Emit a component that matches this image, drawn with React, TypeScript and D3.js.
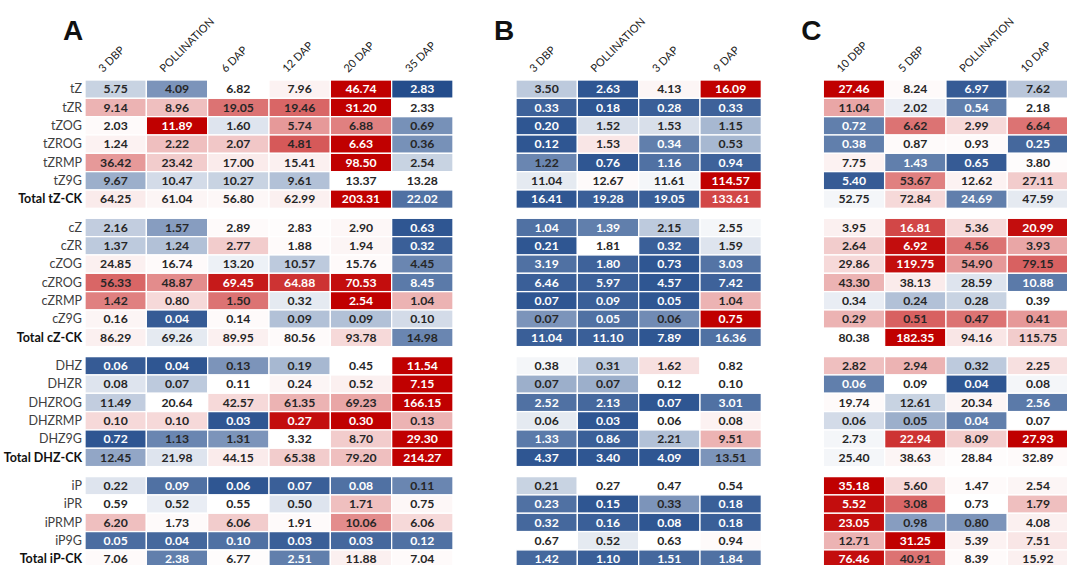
import React from "react";
import * as d3 from "d3";

// ---------- data ----------
const rowGroups: string[][] = [
  ["tZ", "tZR", "tZOG", "tZROG", "tZRMP", "tZ9G", "Total tZ-CK"],
  ["cZ", "cZR", "cZOG", "cZROG", "cZRMP", "cZ9G", "Total cZ-CK"],
  ["DHZ", "DHZR", "DHZROG", "DHZRMP", "DHZ9G", "Total DHZ-CK"],
  ["iP", "iPR", "iPRMP", "iP9G", "Total iP-CK"],
];

const columnsA = ["3 DBP", "POLLINATION", "6 DAP", "12 DAP", "20 DAP", "35 DAP"];
const columnsB = ["3 DBP", "POLLINATION", "3 DAP", "9 DAP"];
const columnsC = ["10 DBP", "5 DBP", "POLLINATION", "10 DAP"];

const valuesA: number[][] = [
  [5.75, 4.09, 6.82, 7.96, 46.74, 2.83],
  [9.14, 8.96, 19.05, 19.46, 31.2, 2.33],
  [2.03, 11.89, 1.6, 5.74, 6.88, 0.69],
  [1.24, 2.22, 2.07, 4.81, 6.63, 0.36],
  [36.42, 23.42, 17.0, 15.41, 98.5, 2.54],
  [9.67, 10.47, 10.27, 9.61, 13.37, 13.28],
  [64.25, 61.04, 56.8, 62.99, 203.31, 22.02],
  [2.16, 1.57, 2.89, 2.83, 2.9, 0.63],
  [1.37, 1.24, 2.77, 1.88, 1.94, 0.32],
  [24.85, 16.74, 13.2, 10.57, 15.76, 4.45],
  [56.33, 48.87, 69.45, 64.88, 70.53, 8.45],
  [1.42, 0.8, 1.5, 0.32, 2.54, 1.04],
  [0.16, 0.04, 0.14, 0.09, 0.09, 0.1],
  [86.29, 69.26, 89.95, 80.56, 93.78, 14.98],
  [0.06, 0.04, 0.13, 0.19, 0.45, 11.54],
  [0.08, 0.07, 0.11, 0.24, 0.52, 7.15],
  [11.49, 20.64, 42.57, 61.35, 69.23, 166.15],
  [0.1, 0.1, 0.03, 0.27, 0.3, 0.13],
  [0.72, 1.13, 1.31, 3.32, 8.7, 29.3],
  [12.45, 21.98, 44.15, 65.38, 79.2, 214.27],
  [0.22, 0.09, 0.06, 0.07, 0.08, 0.11],
  [0.59, 0.52, 0.55, 0.5, 1.71, 0.75],
  [6.2, 1.73, 6.06, 1.91, 10.06, 6.06],
  [0.05, 0.04, 0.1, 0.03, 0.03, 0.12],
  [7.06, 2.38, 6.77, 2.51, 11.88, 7.04],
];

// colour level: -1 = deepest blue, 0 = white, 1 = deepest red
const levelsA: number[][] = [
  [-0.25, -0.6, 0, 0.05, 1, -1],
  [0.3, 0.25, 0.55, 0.6, 1, 0],
  [0.02, 1, -0.15, 0.4, 0.5, -0.62],
  [0.05, 0.25, 0.22, 0.65, 1, -0.62],
  [0.4, 0.2, 0.08, 0.06, 1, -0.25],
  [-0.45, -0.2, -0.25, -0.35, 0, 0],
  [0.08, 0.04, 0.03, 0.06, 1, -0.8],
  [-0.28, -0.55, 0.02, 0.01, 0.03, -0.95],
  [-0.3, -0.35, 0.2, 0.02, 0.04, -0.9],
  [0.06, 0.02, -0.08, -0.3, 0.02, -0.68],
  [0.6, 0.45, 0.9, 0.8, 0.95, -0.75],
  [0.5, 0.15, 0.55, -0.12, 1, 0.3],
  [0.04, -0.92, 0.02, -0.35, -0.35, -0.2],
  [0.06, -0.12, 0.06, 0.02, 0.15, -0.68],
  [-0.92, -0.95, -0.6, -0.4, 0, 1],
  [-0.15, -0.3, 0, 0.04, 0.06, 1],
  [-0.28, 0, 0.15, 0.3, 0.35, 1],
  [0.15, 0.15, -0.95, 0.95, 1, 0.3],
  [-0.95, -0.68, -0.6, 0, 0.2, 1],
  [-0.5, -0.15, 0.08, 0.2, 0.25, 1],
  [-0.15, -0.8, -0.95, -0.9, -0.8, -0.68],
  [0, -0.1, 0, -0.15, 0.25, 0.03],
  [0.25, 0.02, 0.2, 0.02, 0.45, 0.15],
  [-0.82, -0.85, -0.8, -0.9, -0.85, -0.8],
  [0.02, -0.72, 0.01, -0.72, 0.06, 0.02],
];

const valuesB: number[][] = [
  [3.5, 2.63, 4.13, 16.09],
  [0.33, 0.18, 0.28, 0.33],
  [0.2, 1.52, 1.53, 1.15],
  [0.12, 1.53, 0.34, 0.53],
  [1.22, 0.76, 1.16, 0.94],
  [11.04, 12.67, 11.61, 114.57],
  [16.41, 19.28, 19.05, 133.61],
  [1.04, 1.39, 2.15, 2.55],
  [0.21, 1.81, 0.32, 1.59],
  [3.19, 1.8, 0.73, 3.03],
  [6.46, 5.97, 4.57, 7.42],
  [0.07, 0.09, 0.05, 1.04],
  [0.07, 0.05, 0.06, 0.75],
  [11.04, 11.1, 7.89, 16.36],
  [0.38, 0.31, 1.62, 0.82],
  [0.07, 0.07, 0.12, 0.1],
  [2.52, 2.13, 0.07, 3.01],
  [0.06, 0.03, 0.06, 0.08],
  [1.33, 0.86, 2.21, 9.51],
  [4.37, 3.4, 4.09, 13.51],
  [0.21, 0.27, 0.47, 0.54],
  [0.23, 0.15, 0.33, 0.18],
  [0.32, 0.16, 0.08, 0.18],
  [0.67, 0.52, 0.63, 0.94],
  [1.42, 1.1, 1.51, 1.84],
];

const levelsB: number[][] = [
  [-0.3, -0.95, 0.04, 1],
  [-0.88, -0.95, -0.9, -0.88],
  [-0.95, -0.18, -0.18, -0.4],
  [-0.95, 0.1, -0.72, -0.4],
  [-0.68, -0.95, -0.8, -0.88],
  [-0.12, 0.02, -0.05, 1],
  [-0.95, -0.9, -0.9, 0.72],
  [-0.8, -0.72, -0.3, -0.05],
  [-0.95, 0, -0.9, -0.15],
  [-0.8, -0.88, -0.95, -0.78],
  [-0.9, -0.9, -0.95, -0.88],
  [-0.95, -0.9, -0.95, 0.3],
  [-0.6, -0.8, -0.65, 1],
  [-0.9, -0.9, -0.95, -0.8],
  [-0.05, -0.3, 0.12, 0],
  [-0.45, -0.45, 0, 0],
  [-0.8, -0.85, -0.95, -0.8],
  [-0.12, -0.95, 0, 0.05],
  [-0.75, -0.9, -0.35, 0.3],
  [-0.95, -0.95, -0.95, -0.6],
  [-0.25, 0, 0, 0],
  [-0.8, -0.95, -0.6, -0.9],
  [-0.85, -0.9, -0.95, -0.9],
  [0, -0.12, 0, 0.02],
  [-0.85, -0.9, -0.85, -0.8],
];

const valuesC: number[][] = [
  [27.46, 8.24, 6.97, 7.62],
  [11.04, 2.02, 0.54, 2.18],
  [0.72, 6.62, 2.99, 6.64],
  [0.38, 0.87, 0.93, 0.25],
  [7.75, 1.43, 0.65, 3.8],
  [5.4, 53.67, 12.62, 27.11],
  [52.75, 72.84, 24.69, 47.59],
  [3.95, 16.81, 5.36, 20.99],
  [2.64, 6.92, 4.56, 3.93],
  [29.86, 119.75, 54.9, 79.15],
  [43.3, 38.13, 28.59, 10.88],
  [0.34, 0.24, 0.28, 0.39],
  [0.29, 0.51, 0.47, 0.41],
  [80.38, 182.35, 94.16, 115.75],
  [2.82, 2.94, 0.32, 2.25],
  [0.06, 0.09, 0.04, 0.08],
  [19.74, 12.61, 20.34, 2.56],
  [0.06, 0.05, 0.04, 0.07],
  [2.73, 22.94, 8.09, 27.93],
  [25.4, 38.63, 28.84, 32.89],
  [35.18, 5.6, 1.47, 2.54],
  [5.52, 3.08, 0.73, 1.79],
  [23.05, 0.98, 0.8, 4.08],
  [12.71, 31.25, 5.39, 7.51],
  [76.46, 40.91, 8.39, 15.92],
];

const levelsC: number[][] = [
  [1, 0.02, -0.92, -0.32],
  [0.35, -0.1, -0.72, 0],
  [-0.72, 0.55, 0.15, 0.55],
  [-0.72, 0.02, 0.02, -0.85],
  [0.05, -0.72, -0.92, 0.01],
  [-0.92, 0.5, 0.05, 0.2],
  [-0.05, 0.15, -0.72, -0.12],
  [0.06, 0.72, 0.15, 0.95],
  [0.2, 0.95, 0.55, 0.35],
  [0.15, 0.95, 0.4, 0.62],
  [0.3, 0.08, -0.15, -0.75],
  [-0.1, -0.35, -0.25, 0],
  [0.3, 0.62, 0.55, 0.4],
  [0, 1, 0.1, 0.2],
  [0.25, 0.3, -0.3, 0.12],
  [-0.72, 0, -0.95, -0.05],
  [0.02, -0.25, 0.04, -0.75],
  [-0.2, -0.45, -0.72, 0],
  [-0.05, 0.8, 0.2, 1],
  [-0.05, 0.04, 0.01, 0.02],
  [1, 0.15, 0.02, 0.04],
  [0.95, 0.6, 0, 0.25],
  [0.95, -0.55, -0.6, 0.06],
  [0.3, 1, 0.05, 0.1],
  [0.95, 0.55, 0.02, 0.06],
];

const panelLetters = ["A", "B", "C"];

// ---------- layout ----------
const W = 1067;
const H = 565;
const TOP = 80;
const ROW_H = 18.33;
const GROUP_GAP = 10;
const COL_W = 61.33;
const FONT = "Lato, 'Open Sans', 'DejaVu Sans', sans-serif";

const color = d3
  .scaleLinear<string>()
  .domain([-1, 0, 1])
  .range(["#244d8c", "#ffffff", "#c00000"])
  .interpolate(d3.interpolateRgb)
  .clamp(true);

const fmt = d3.format(".2f");

// row position scales, one band scale per group
const groupScales = (() => {
  let start = TOP;
  return rowGroups.map((rows) => {
    const s = d3
      .scaleBand<string>()
      .domain(rows)
      .range([start, start + rows.length * ROW_H])
      .padding(0);
    start += rows.length * ROW_H + GROUP_GAP;
    return s;
  });
})();

const allRows = rowGroups.flatMap((rows, g) => rows.map((r) => ({ name: r, g })));

type Panel = {
  letter: string;
  x0: number;
  columns: string[];
  values: number[][];
  levels: number[][];
  labels: boolean;
};

const panels: Panel[] = [
  { letter: panelLetters[0], x0: 85, columns: columnsA, values: valuesA, levels: levelsA, labels: true },
  { letter: panelLetters[1], x0: 516, columns: columnsB, values: valuesB, levels: levelsB, labels: false },
  { letter: panelLetters[2], x0: 823.3, columns: columnsC, values: valuesC, levels: levelsC, labels: false },
];

function PanelView({ p }: { p: Panel }) {
  const x = d3
    .scaleBand<string>()
    .domain(p.columns.map((c, i) => i + "|" + c))
    .range([p.x0, p.x0 + p.columns.length * COL_W])
    .padding(0);
  const keys = x.domain();
  return (
    <g>
      <text
        x={p.x0 - 22}
        y={40}
        fontFamily="'Liberation Sans', Arial, sans-serif"
        fontWeight="bold"
        fontSize={28}
        fill="#111"
      >
        {p.letter}
      </text>
      {keys.map((k, i) => {
        const ax = (x(k) as number) + 18;
        const ay = 73;
        return (
          <text
            key={"h" + i}
            x={ax}
            y={ay}
            transform={`rotate(-45 ${ax} ${ay})`}
            fontFamily={FONT}
            fontSize={11}
            fill="#222"
          >
            {p.columns[i]}
          </text>
        );
      })}
      {allRows.map((row, ri) => {
        const ys = groupScales[row.g];
        const y = ys(row.name) as number;
        const h = ys.bandwidth();
        const isTotal = row.name.startsWith("Total");
        return (
          <g key={"r" + ri}>
            {p.labels && (
              <text
                x={p.x0 - 3}
                y={y + h / 2 + 4.3}
                textAnchor="end"
                fontFamily={FONT}
                fontSize={12.5}
                fontWeight={isTotal ? "bold" : "normal"}
                fill={isTotal ? "#111" : "#404040"}
              >
                {row.name}
              </text>
            )}
            {keys.map((k, ci) => {
              const lv = p.levels[ri][ci];
              const v = p.values[ri][ci];
              const cx = x(k) as number;
              const w = x.bandwidth();
              return (
                <g key={"c" + ci}>
                  <rect
                    x={cx}
                    y={y}
                    width={w}
                    height={h}
                    fill={color(lv)}
                    stroke="#ffffff"
                    strokeWidth={1.3}
                  />
                  <text
                    x={cx + w / 2}
                    y={y + h / 2 + 4.3}
                    textAnchor="middle"
                    fontFamily={FONT}
                    fontWeight="bold"
                    fontSize={12.2}
                    fill={Math.abs(lv) >= 0.7 ? "#ffffff" : "#262626"}
                  >
                    {fmt(v)}
                  </text>
                </g>
              );
            })}
          </g>
        );
      })}
    </g>
  );
}

export default function App() {
  return (
    <svg
      width={W}
      height={H}
      viewBox={`0 0 ${W} ${H}`}
      style={{ position: "absolute", left: 0, top: 0, background: "#ffffff", display: "block" }}
    >
      <rect x={0} y={0} width={W} height={H} fill="#ffffff" />
      {panels.map((p) => (
        <PanelView key={p.letter} p={p} />
      ))}
    </svg>
  );
}
